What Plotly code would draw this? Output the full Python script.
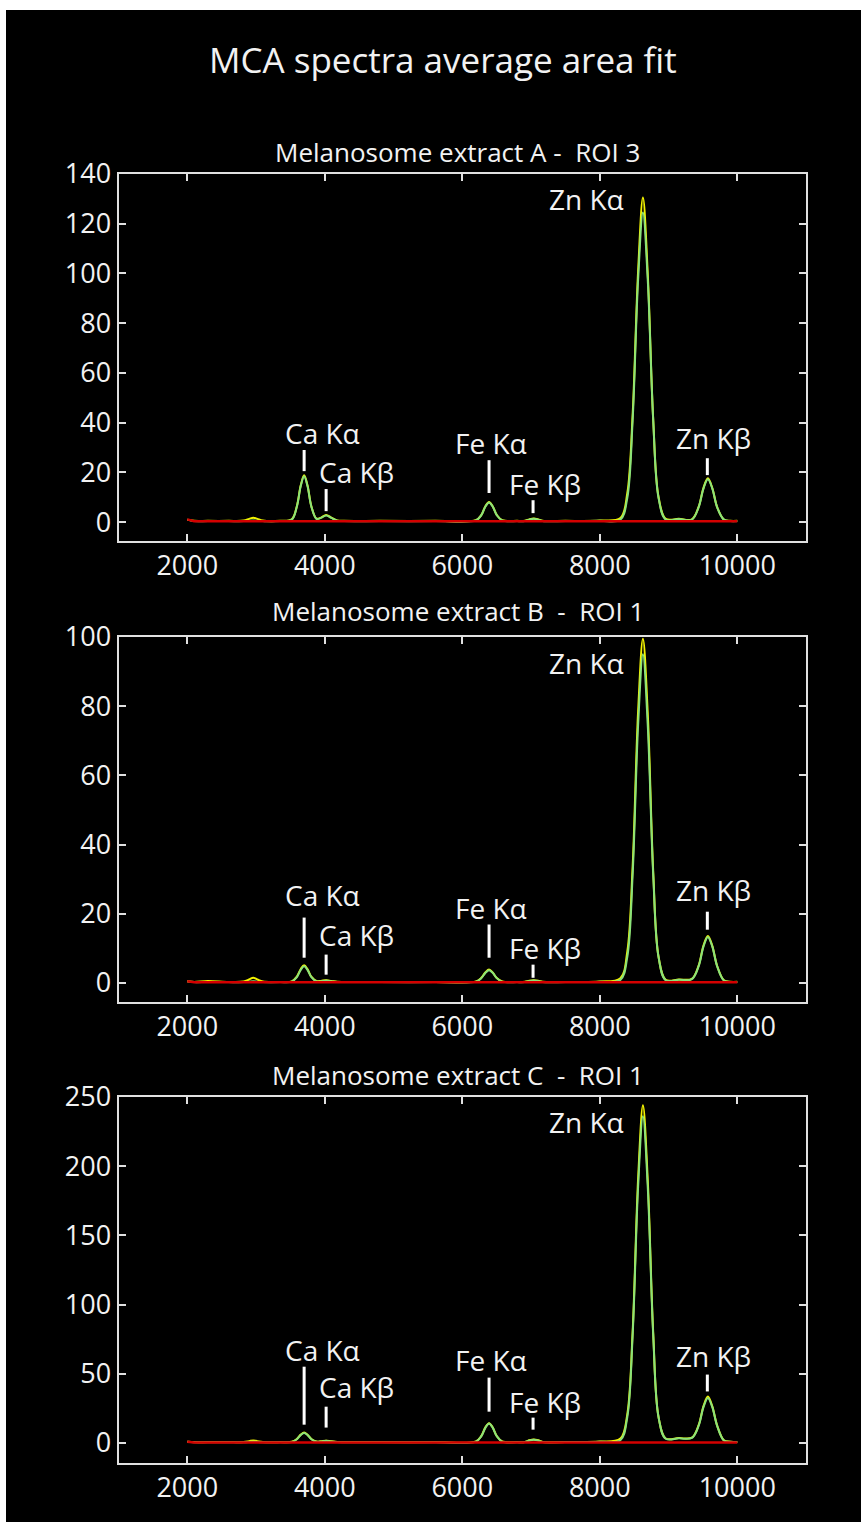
import plotly.graph_objects as go

# Energy grid (eV) shared by the three averaged MCA spectra
energy_ev = [2000, 2100, 2300, 2600, 2820, 2900, 2960, 3020, 3100, 3350,
             3520, 3595, 3651, 3700, 3749, 3805, 3880, 3945, 4020, 4095, 4180, 4280,
             4800, 5600,
             6200, 6278, 6338, 6390, 6442, 6502, 6580,
             6800,
             6910, 6975, 7040, 7105, 7170,
             7500, 8000,
             8300, 8400, 8478, 8558, 8628, 8698, 8778, 8856, 8960,
             9150,
             9340, 9438, 9510, 9573, 9636, 9708, 9806,
             9900, 10000]

# Extract A - ROI 3
a_measured = [1.0, 0.5, 0.5, 0.5, 0.6, 1.3, 1.8, 1.3, 0.6, 0.5,
              1.1, 6.5, 14.8, 18.8, 14.8, 6.4, 1.4, 1.8, 2.9, 1.8, 0.7, 0.5,
              0.5, 0.5,
              0.8, 2.9, 6.5, 8.1, 6.4, 2.9, 0.8,
              0.5,
              0.55, 1.1, 1.4, 1.1, 0.55,
              0.5, 0.6,
              1.6, 11.5, 43.0, 101.0, 130.5, 100.0, 41.0, 10.0, 1.3,
              1.3,
              1.1, 6.1, 13.9, 17.6, 13.8, 6.0, 1.0,
              0.5, 0.5]
a_fit = [1.0, 0.4, 0.4, 0.4, 0.4, 0.5, 0.6, 0.5, 0.4, 0.4,
         1.0, 6.3, 14.5, 18.4, 14.5, 6.3, 1.3, 1.7, 2.7, 1.7, 0.6, 0.4,
         0.4, 0.4,
         0.7, 2.8, 6.3, 7.9, 6.3, 2.8, 0.7,
         0.4,
         0.45, 1.0, 1.3, 1.0, 0.45,
         0.4, 0.5,
         1.0, 9.6, 40.7, 97.5, 124.5, 97.5, 40.7, 9.6, 1.0,
         1.2,
         1.0, 5.9, 13.6, 17.2, 13.6, 5.9, 1.0,
         0.4, 0.4]

# Extract B - ROI 1
b_measured = [0.5, 0.3, 0.6, 0.3, 0.4, 1.0, 1.5, 1.0, 0.4, 0.3,
              0.45, 1.85, 4.05, 5.1, 4.0, 1.8, 0.55, 0.6, 0.8, 0.6, 0.35, 0.3,
              0.3, 0.3,
              0.45, 1.5, 3.1, 3.9, 3.05, 1.45, 0.45,
              0.3,
              0.35, 0.65, 0.8, 0.65, 0.35,
              0.3, 0.4,
              1.4, 9.0, 33.5, 78.5, 99.5, 78.0, 32.0, 7.5, 0.9,
              1.0,
              1.2, 5.0, 10.9, 13.6, 10.8, 4.9, 0.8,
              0.35, 0.35]
b_fit = [0.5, 0.25, 0.3, 0.25, 0.25, 0.35, 0.5, 0.35, 0.25, 0.25,
         0.4, 1.7, 3.8, 4.8, 3.8, 1.7, 0.46, 0.5, 0.7, 0.5, 0.3, 0.25,
         0.25, 0.25,
         0.4, 1.4, 2.95, 3.7, 2.95, 1.4, 0.4,
         0.25,
         0.27, 0.56, 0.7, 0.56, 0.27,
         0.25, 0.35,
         0.9, 7.4, 31.1, 74.5, 95.0, 74.5, 31.1, 7.4, 0.8,
         0.9,
         1.1, 4.8, 10.6, 13.3, 10.6, 4.8, 0.7,
         0.3, 0.3]

# Extract C - ROI 1
c_measured = [0.8, 0.6, 0.6, 0.6, 0.7, 1.3, 1.8, 1.3, 0.7, 0.6,
              0.8, 2.9, 6.0, 7.5, 5.9, 2.8, 1.0, 1.2, 1.6, 1.2, 0.7, 0.6,
              0.6, 0.6,
              1.1, 5.1, 11.4, 14.3, 11.3, 5.0, 1.1,
              0.6,
              0.7, 1.9, 2.5, 1.9, 0.7,
              0.7, 1.0,
              3.2, 20.5, 80.0, 191.0, 244.0, 190.0, 79.0, 18.5, 3.2,
              3.5,
              3.8, 12.8, 26.8, 33.5, 26.6, 12.5, 1.9,
              0.9, 0.7]
c_fit = [0.8, 0.5, 0.5, 0.5, 0.5, 0.7, 0.9, 0.7, 0.5, 0.5,
         0.7, 2.7, 5.7, 7.2, 5.7, 2.7, 0.9, 1.1, 1.5, 1.1, 0.6, 0.5,
         0.5, 0.5,
         1.0, 4.9, 11.1, 14.0, 11.1, 4.9, 1.0,
         0.5,
         0.6, 1.7, 2.3, 1.7, 0.6,
         0.6, 0.9,
         2.0, 18.4, 77.4, 185.0, 236.0, 185.0, 77.4, 18.4, 3.0,
         3.3,
         3.6, 12.3, 26.0, 32.5, 26.0, 12.3, 1.8,
         0.8, 0.6]

# Fitted background
background_ev = [2000, 2100, 10000]
a_background = [1.1, 0.35, 0.3]
b_background = [0.5, 0.2, 0.2]
c_background = [0.8, 0.4, 0.4]

panel_titles = ["Melanosome extract A -  ROI 3",
                "Melanosome extract B  -  ROI 1",
                "Melanosome extract C  -  ROI 1"]
x_tickvals = [2000, 4000, 6000, 8000, 10000]
x_ticktext = ["2000", "4000", "6000", "8000", "10000"]
y_ranges = [[-7.6, 140], [-5.5, 100], [-14.5, 250]]
y_dtick = [20, 20, 50]

# Emission line labels: (text, x, y) and the marker bar (x, y0, y1)
line_labels = [
    [("Ca Kα", 3973, 35.8), ("Ca Kβ", 4467, 20.1), ("Fe Kα", 6413, 31.8),
     ("Fe Kβ", 7198, 15.3), ("Zn Kα", 7808, 130.0), ("Zn Kβ", 9653, 33.8)],
    [("Ca Kα", 3973, 25.5), ("Ca Kβ", 4467, 14.0), ("Fe Kα", 6413, 21.8),
     ("Fe Kβ", 7198, 10.2), ("Zn Kα", 7808, 92.6), ("Zn Kβ", 9653, 27.0)],
    [("Ca Kα", 3973, 67.4), ("Ca Kβ", 4467, 40.7), ("Fe Kα", 6413, 60.3),
     ("Fe Kβ", 7198, 29.8), ("Zn Kα", 7808, 232.0), ("Zn Kβ", 9653, 62.5)],
]
line_bars = [
    [(3700, 20.5, 29.0), (4020, 4.4, 13.3), (6390, 11.7, 24.9),
     (7030, 3.6, 8.8), (9565, 18.9, 25.7)],
    [(3700, 7.3, 18.9), (4020, 2.4, 8.2), (6390, 7.3, 16.9),
     (7030, 1.5, 5.3), (9565, 15.4, 20.6)],
    [(3700, 13.2, 55.1), (4020, 11.1, 26.2), (6390, 22.6, 47.2),
     (7030, 9.6, 18.3), (9565, 37.2, 49.4)],
]

measured = [a_measured, b_measured, c_measured]
fitted = [a_fit, b_fit, c_fit]
backgrounds = [a_background, b_background, c_background]

W, H = 861, 1522
FONT = "Open Sans"
AX_COLOR = "#e0e0e0"
TXT_COLOR = "#f2f2f2"

# panel placement (pixels from the top of the page)
panel_px = [(174, 541), (637, 1002), (1097, 1463)]
x_px = (118.5, 806)
title_px = [152, 611, 1075]

fig = go.Figure()
layout = dict(
    width=W, height=H, autosize=False,
    margin=dict(l=0, r=0, t=0, b=0),
    paper_bgcolor="black", plot_bgcolor="black",
    showlegend=False,
    font=dict(family=FONT, color=TXT_COLOR),
)
annotations = []
shapes = []

for i in range(3):
    sfx = "" if i == 0 else str(i + 1)
    xa, ya = "x" + sfx, "y" + sfx
    fig.add_trace(go.Scatter(x=energy_ev, y=measured[i], mode="lines",
                             line=dict(color="#f2f200", width=2, shape="spline"),
                             xaxis=xa, yaxis=ya, name="data"))
    fig.add_trace(go.Scatter(x=energy_ev, y=fitted[i], mode="lines",
                             line=dict(color="#8ae27a", width=2, shape="spline"),
                             xaxis=xa, yaxis=ya, name="fit"))
    fig.add_trace(go.Scatter(x=background_ev, y=backgrounds[i], mode="lines",
                             line=dict(color="#d40000", width=2.5),
                             xaxis=xa, yaxis=ya, name="background"))

    top, bot = panel_px[i]
    axis_common = dict(showline=True, linecolor=AX_COLOR, linewidth=2,
                       mirror="ticks", ticks="inside", ticklen=7, tickwidth=2,
                       tickcolor=AX_COLOR, showgrid=False, zeroline=False,
                       automargin=False,
                       tickfont=dict(family=FONT, size=27, color=TXT_COLOR))
    layout["xaxis" + sfx] = dict(axis_common, domain=[x_px[0] / W, x_px[1] / W],
                                 range=[1000, 11000], tickmode="array",
                                 tickvals=x_tickvals, ticktext=x_ticktext,
                                 anchor=ya)
    layout["yaxis" + sfx] = dict(axis_common, domain=[1 - bot / H, 1 - top / H],
                                 range=y_ranges[i], dtick=y_dtick[i], tick0=0,
                                 anchor=xa)

    annotations.append(dict(text=panel_titles[i], xref="paper", yref="paper",
                            x=458 / W, y=1 - title_px[i] / H,
                            xanchor="center", yanchor="middle", showarrow=False,
                            font=dict(family=FONT, size=26, color=TXT_COLOR)))
    for text, lx, ly in line_labels[i]:
        annotations.append(dict(text=text, xref=xa, yref=ya, x=lx, y=ly,
                                xanchor="center", yanchor="middle", showarrow=False,
                                font=dict(family=FONT, size=28, color=TXT_COLOR)))
    for bx, by0, by1 in line_bars[i]:
        shapes.append(dict(type="line", xref=xa, yref=ya, x0=bx, x1=bx, y0=by0, y1=by1,
                           line=dict(color="white", width=3)))

annotations.append(dict(text="MCA spectra average area fit", xref="paper", yref="paper",
                        x=443 / W, y=1 - 60 / H, xanchor="center", yanchor="middle",
                        showarrow=False, font=dict(family=FONT, size=35, color=TXT_COLOR)))

# white page edge along the top and left
shapes.append(dict(type="rect", xref="paper", yref="paper", x0=0, x1=1,
                   y0=1 - 10 / H, y1=1, fillcolor="white", line=dict(width=0), layer="above"))
shapes.append(dict(type="rect", xref="paper", yref="paper", x0=0, x1=6 / W,
                   y0=0, y1=1, fillcolor="white", line=dict(width=0), layer="above"))

layout["annotations"] = annotations
layout["shapes"] = shapes
fig.update_layout(**layout)
fig.write_html("out.html")
